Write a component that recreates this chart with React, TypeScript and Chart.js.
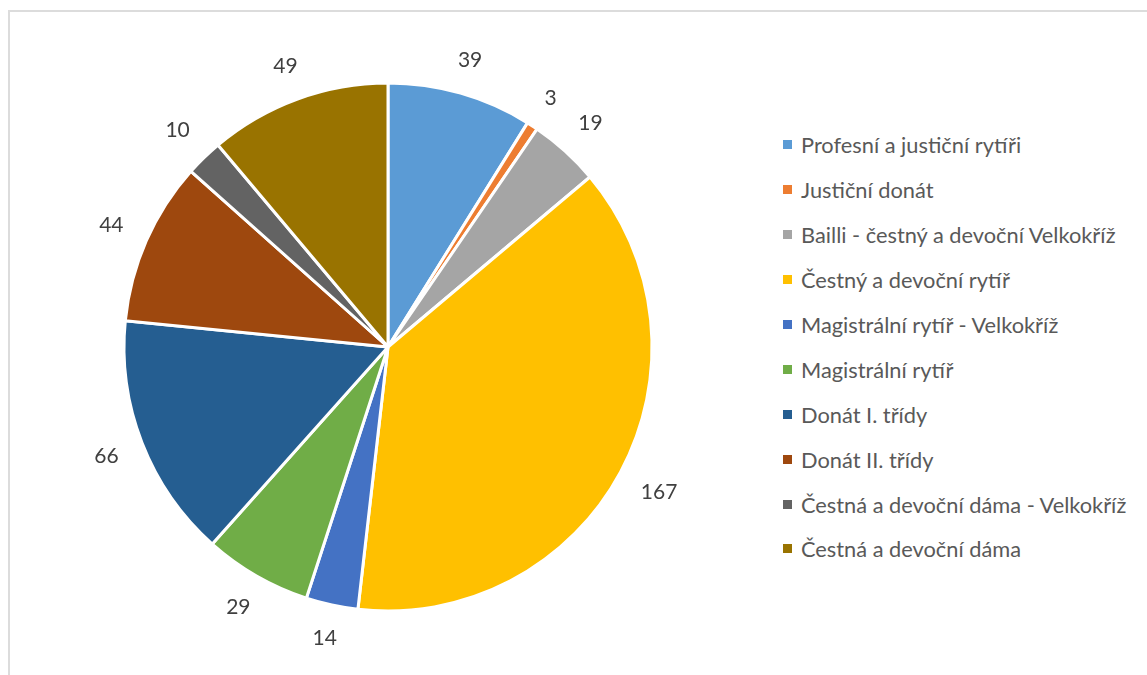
import React, { useEffect, useRef } from "react";
import { Chart, registerables } from "chart.js";

Chart.register(...registerables);

const categories = [
  "Profesní a justiční rytíři",
  "Justiční donát",
  "Bailli - čestný a devoční Velkokříž",
  "Čestný a devoční rytíř",
  "Magistrální rytíř - Velkokříž",
  "Magistrální rytíř",
  "Donát I. třídy",
  "Donát II. třídy",
  "Čestná a devoční dáma - Velkokříž",
  "Čestná a devoční dáma",
];
const values = [39, 3, 19, 167, 14, 29, 66, 44, 10, 49];
const colors = [
  "#5B9BD5",
  "#ED7D31",
  "#A5A5A5",
  "#FFC000",
  "#4472C4",
  "#70AD47",
  "#255E91",
  "#9E480E",
  "#636363",
  "#997300",
];

const FONT = "Lato, 'Open Sans', sans-serif";

const outsideLabels = {
  id: "outsideLabels",
  afterDatasetsDraw(chart: any) {
    const ctx = chart.ctx;
    const meta = chart.getDatasetMeta(0);
    ctx.save();
    ctx.font = `21px ${FONT}`;
    ctx.fillStyle = "#404040";
    ctx.textAlign = "center";
    ctx.textBaseline = "middle";
    meta.data.forEach((arc: any, i: number) => {
      const p = arc.getProps(["x", "y", "startAngle", "endAngle", "outerRadius"], true);
      const mid = (p.startAngle + p.endAngle) / 2;
      const text = String(values[i]);
      const w = ctx.measureText(text).width;
      const h = 15;
      const c = Math.cos(mid);
      const s = Math.sin(mid);
      const d = p.outerRadius + 24 + Math.abs(c) * (w / 2) + Math.abs(s) * (h / 2);
      ctx.fillText(text, p.x + c * d, p.y + s * d);
    });
    ctx.restore();
  },
};

export default function App() {
  const ref = useRef<HTMLCanvasElement>(null);

  useEffect(() => {
    let chart: Chart | null = null;
    let cancelled = false;
    const make = () => {
      if (cancelled || !ref.current) return;
      chart = new Chart(ref.current, {
        type: "pie",
        data: {
          labels: categories,
          datasets: [
            {
              data: values,
              backgroundColor: colors,
              borderColor: "#ffffff",
              borderWidth: 3,
            },
          ],
        },
        options: {
          animation: false,
          responsive: true,
          maintainAspectRatio: false,
          radius: 264,
          layout: { padding: 0 },
          plugins: {
            legend: { display: false },
            tooltip: { enabled: false },
          },
        } as any,
        plugins: [outsideLabels],
      });
    };
    if ((document as any).fonts && (document as any).fonts.load) {
      (document as any).fonts.load(`21px Lato`).then(make, make);
    } else {
      make();
    }
    return () => {
      cancelled = true;
      if (chart) chart.destroy();
    };
  }, []);

  return (
    <div>
      <div
        style={{
          position: "fixed",
          left: 8,
          top: 10,
          width: 1200,
          height: 720,
          border: "2px solid #dcdcdc",
          boxSizing: "border-box",
          background: "#fff",
        }}
      />
      <div
        style={{
          position: "fixed",
          left: 8,
          top: 11,
          width: 760,
          height: 672,
        }}
      >
        <canvas ref={ref} />
      </div>
      <div
        style={{
          position: "fixed",
          left: 783,
          top: 122.5,
          fontFamily: FONT,
          fontSize: 21.8,
          color: "#595959",
        }}
      >
        {categories.map((c, i) => (
          <div
            key={c}
            style={{ height: 44.9, display: "flex", alignItems: "center", whiteSpace: "nowrap" }}
          >
            <span
              style={{
                display: "inline-block",
                width: 9,
                height: 9,
                background: colors[i],
                marginRight: 9,
              }}
            />
            <span>{c}</span>
          </div>
        ))}
      </div>
    </div>
  );
}
